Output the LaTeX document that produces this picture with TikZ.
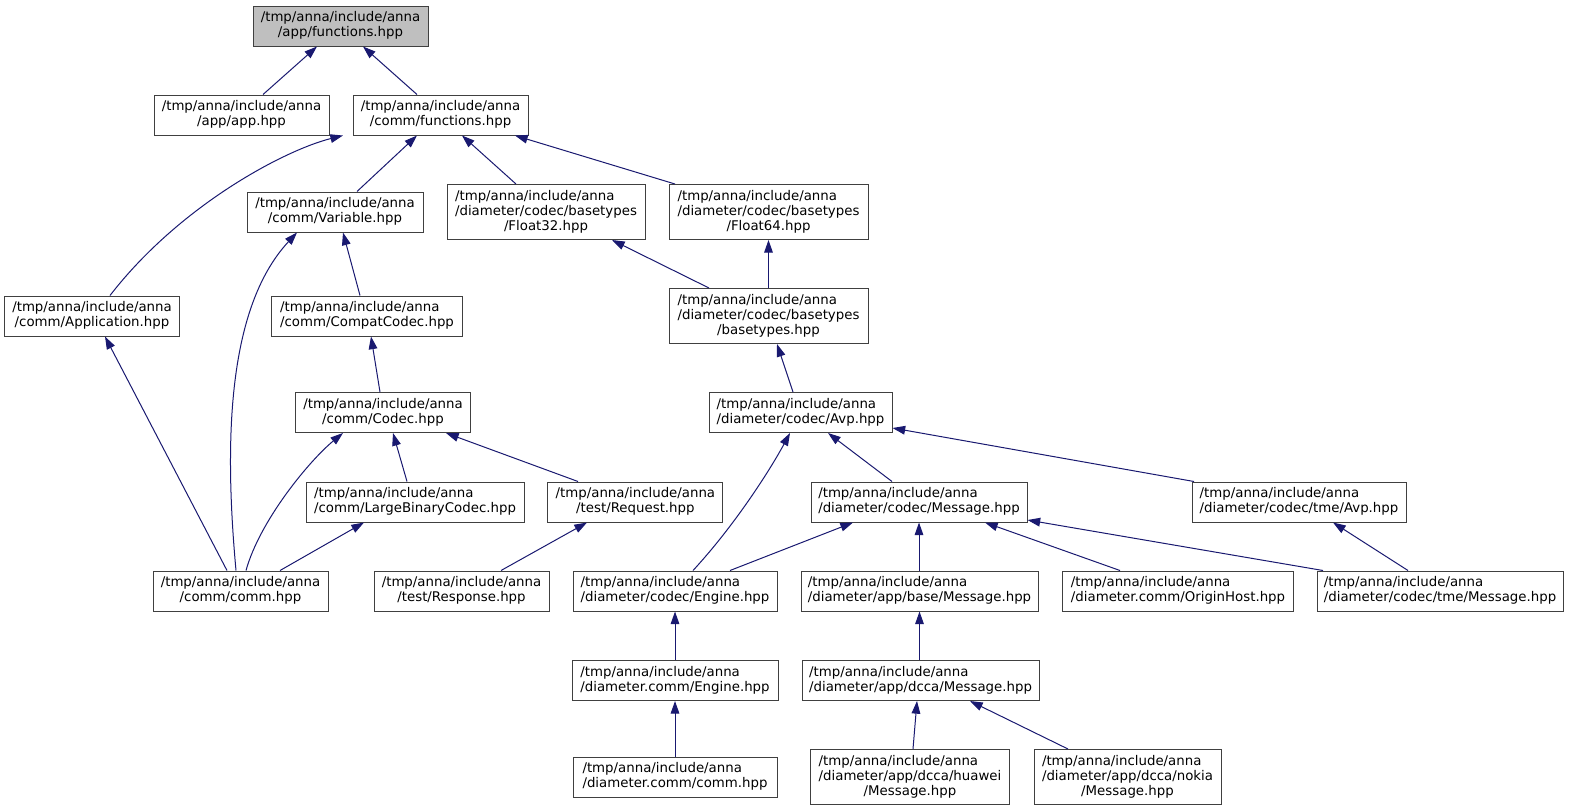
\documentclass[tikz,border=0pt]{standalone}
\usepackage{fontspec}
\setmainfont{DejaVu Sans}
\usetikzlibrary{arrows.meta}

\definecolor{midblue}{HTML}{191970}
\definecolor{boxgrey}{HTML}{404040}
\definecolor{rootgrey}{HTML}{BFBFBF}

% file label: upper lines flush left, last line centred
\newcommand{\flabel}[2]{\begin{tabular}{@{}l@{}}#1\\\multicolumn{1}{@{}c@{}}{#2}\end{tabular}}

\begin{document}
\begin{tikzpicture}[x=0.75pt,y=-0.75pt,
  file/.style 2 args={draw=boxgrey,fill=white,line width=0.75pt,inner sep=0pt,
    minimum width=#1*0.75pt,minimum height=#2*0.75pt,font=\fontsize{10}{11.25}\selectfont},
  dep/.style={draw=midblue,line width=0.75pt,{Triangle[length=9.5pt,width=6.5pt]}-}]
  \useasboundingbox (0,0) rectangle (1569,811);
  % --- rows 0-2
  \node[file={175}{40},fill=rootgrey] (root) at (340.5,26) {\flabel{/tmp/anna/include/anna}{/app/functions.hpp}};
  \node[file={175}{40}] (app) at (241.5,115) {\flabel{/tmp/anna/include/anna}{/app/app.hpp}};
  \node[file={175}{40}] (cfun) at (440.5,115) {\flabel{/tmp/anna/include/anna}{/comm/functions.hpp}};
  \node[file={176}{40}] (var) at (335,212) {\flabel{/tmp/anna/include/anna}{/comm/Variable.hpp}};
  \node[file={198}{55}] (f32) at (546,212) {\flabel{/tmp/anna/include/anna\\/diameter/codec/basetypes}{/Float32.hpp}};
  \node[file={199}{55}] (f64) at (768.5,212) {\flabel{/tmp/anna/include/anna\\/diameter/codec/basetypes}{/Float64.hpp}};
  % --- rows 3-5
  \node[file={175}{40}] (appl) at (92,316) {\flabel{/tmp/anna/include/anna}{/comm/Application.hpp}};
  \node[file={191}{40}] (compat) at (367,316) {\flabel{/tmp/anna/include/anna}{/comm/CompatCodec.hpp}};
  \node[file={199}{55}] (btypes) at (768.5,316) {\flabel{/tmp/anna/include/anna\\/diameter/codec/basetypes}{/basetypes.hpp}};
  \node[file={175}{40}] (codec) at (383,412.5) {\flabel{/tmp/anna/include/anna}{/comm/Codec.hpp}};
  \node[file={183}{40}] (avp) at (800.5,412.5) {\flabel{/tmp/anna/include/anna}{/diameter/codec/Avp.hpp}};
  \node[file={218}{40}] (lbc) at (415,502) {\flabel{/tmp/anna/include/anna}{/comm/LargeBinaryCodec.hpp}};
  \node[file={175}{40}] (req) at (635.4,502) {\flabel{/tmp/anna/include/anna}{/test/Request.hpp}};
  \node[file={216}{40}] (msg) at (919,502) {\flabel{/tmp/anna/include/anna}{/diameter/codec/Message.hpp}};
  \node[file={214}{40}] (tavp) at (1299,502) {\flabel{/tmp/anna/include/anna}{/diameter/codec/tme/Avp.hpp}};
  % --- rows 6-8
  \node[file={175}{40}] (comm) at (240.5,591) {\flabel{/tmp/anna/include/anna}{/comm/comm.hpp}};
  \node[file={175}{40}] (resp) at (461.5,591) {\flabel{/tmp/anna/include/anna}{/test/Response.hpp}};
  \node[file={204}{40}] (eng) at (675,591) {\flabel{/tmp/anna/include/anna}{/diameter/codec/Engine.hpp}};
  \node[file={237}{40}] (bmsg) at (919.5,591) {\flabel{/tmp/anna/include/anna}{/diameter/app/base/Message.hpp}};
  \node[file={231}{40}] (ohost) at (1178,591) {\flabel{/tmp/anna/include/anna}{/diameter.comm/OriginHost.hpp}};
  \node[file={246}{40}] (tmsg) at (1440,591) {\flabel{/tmp/anna/include/anna}{/diameter/codec/tme/Message.hpp}};
  \node[file={206}{40}] (dceng) at (675,680.5) {\flabel{/tmp/anna/include/anna}{/diameter.comm/Engine.hpp}};
  \node[file={237}{40}] (dcca) at (920.5,680.5) {\flabel{/tmp/anna/include/anna}{/diameter/app/dcca/Message.hpp}};
  \node[file={204}{40}] (dccomm) at (675,777) {\flabel{/tmp/anna/include/anna}{/diameter.comm/comm.hpp}};
  \node[file={199}{55}] (huawei) at (910,777) {\flabel{/tmp/anna/include/anna\\/diameter/app/dcca/huawei}{/Message.hpp}};
  \node[file={187}{55}] (nokia) at (1127.5,777) {\flabel{/tmp/anna/include/anna\\/diameter/app/dcca/nokia}{/Message.hpp}};
  % straight include edges: upper/tip x/lower/start x
  \foreach \up/\ux/\lo/\lx in {root/317/app/263, root/363/cfun/417, cfun/417/var/357,
      cfun/462/f32/516, cfun/515/f64/675, var/343/compat/360, f32/612/btypes/709,
      f64/768.5/btypes/768.5, appl/105/comm/227, compat/371/codec/380, btypes/777/avp/793,
      codec/393/lbc/407, codec/446/req/578, avp/828/msg/892, lbc/364/comm/280,
      req/587/resp/501, msg/853/eng/730, msg/919/bmsg/919, msg/985/ohost/1120,
      tavp/1333/tmsg/1408, eng/675/dceng/675, bmsg/919.5/dcca/919.5,
      dceng/675/dccomm/675, dcca/917/huawei/913, dcca/970/nokia/1068}
    \draw[dep] (\up.south -| \ux,0) -- (\lo.north -| \lx,0);
  % side entries
  \draw[dep] (avp.east |- 0,428) -- (tavp.north -| 1194,0);
  \draw[dep] (msg.east |- 0,520) -- (tmsg.north -| 1323,0);
  % curved edges
  \draw[dep] (cfun.south -| 343,0) .. controls (285,150) and (180,205) .. (appl.north -| 110,0);
  \draw[dep] (var.south -| 297,0) .. controls (225,310) and (225,450) .. (comm.north -| 236,0);
  \draw[dep] (codec.south -| 343,0) .. controls (310,460) and (260,520) .. (comm.north -| 246,0);
  \draw[dep] (avp.south -| 790,0) .. controls (770,470) and (735,525) .. (eng.north -| 693,0);
\end{tikzpicture}
\end{document}
